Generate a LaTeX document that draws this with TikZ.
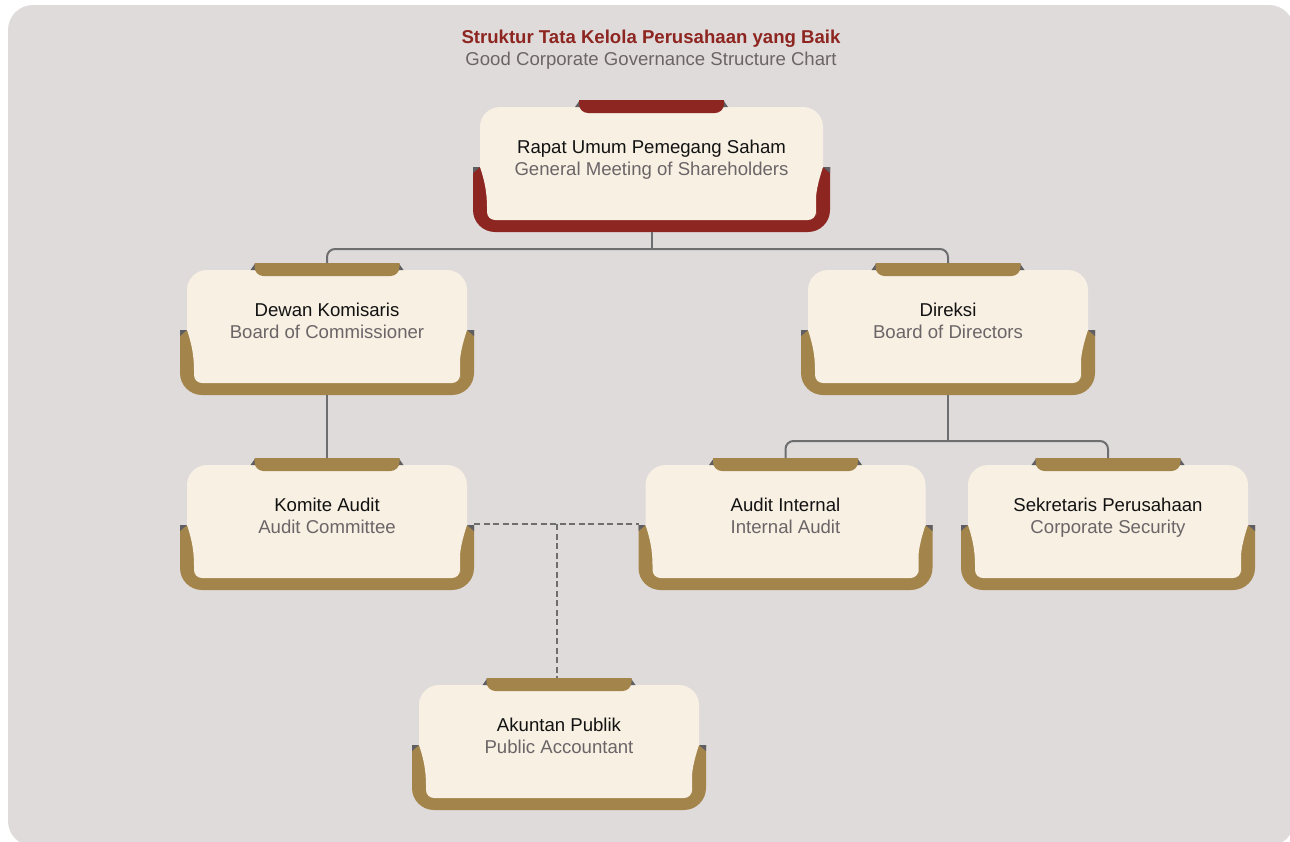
\documentclass[tikz,border=0pt]{standalone}
\usepackage{fontspec}
\setmainfont{Liberation Sans}
\usetikzlibrary{calc}

\definecolor{panelgray}{HTML}{E0DBDB}
\definecolor{creamfill}{HTML}{F7F0E3}
\definecolor{bronze}{HTML}{A3844A}
\definecolor{maroon}{HTML}{8D2520}
\definecolor{foldgray}{HTML}{5F5F63}
\definecolor{linkgray}{HTML}{6E6E70}
\definecolor{subgray}{HTML}{6C6568}
\definecolor{inkblack}{HTML}{121212}

\tikzset{
  frame/.style={inner sep=0pt, outer sep=0pt, draw=none},
  lineone/.style={anchor=base, inner sep=0pt, text=inkblack,
    font=\fontsize{18.6}{22}\selectfont},
  linetwo/.style={anchor=base, inner sep=0pt, text=subgray,
    font=\fontsize{18.6}{22}\selectfont},
  link/.style={draw=linkgray, line width=2pt},
  dashlink/.style={draw=linkgray, line width=2pt, dash pattern=on 6pt off 3.5pt},
}

% \govbox{name}{centre x}{top of card}{half width of card}{accent colour}{text 1}{text 2}
\newcommand\govbox[7]{%
  % outline node used by the connectors
  \node[frame, minimum width={2*#4+14}, minimum height=132] (#1) at (#2,{#3+59}) {};
  % tray under the card
  \begin{scope}
    \clip ({#2-#4-8},{#3+60}) rectangle ({#2+#4+8},{#3+130});
    \fill[#5, rounded corners=22] ({#2-#4-7},{#3+20}) rectangle ({#2+#4+7},{#3+125});
  \end{scope}
  \fill[foldgray] ({#2-#4-7},{#3+60}) -- ({#2-#4},{#3+60}) -- ({#2-#4-7},{#3+66}) -- cycle;
  \fill[foldgray] ({#2+#4+7},{#3+60}) -- ({#2+#4},{#3+60}) -- ({#2+#4+7},{#3+66}) -- cycle;
  % card: upper part
  \begin{scope}
    \clip ({#2-#4-1},{#3-1}) rectangle ({#2+#4+1},{#3+60.6});
    \fill[creamfill, rounded corners=20] ({#2-#4},{#3}) rectangle ({#2+#4},{#3+110});
  \end{scope}
  % card: lower part, sides drawn in by the tray
  \fill[creamfill] ({#2-#4},{#3+60}) .. controls ({#2-#4+4},{#3+72}) and ({#2-#4+7},{#3+84}) .. ({#2-#4+7},{#3+100})
     [rounded corners=8] -- ({#2-#4+7},{#3+113}) -- ({#2+#4-7},{#3+113}) -- ({#2+#4-7},{#3+100})
     [sharp corners] .. controls ({#2+#4-7},{#3+84}) and ({#2+#4-4},{#3+72}) .. ({#2+#4},{#3+60}) -- cycle;
  % tab on top of the card
  \fill[foldgray] ({#2-76.5},{#3}) -- ({#2-71.5},{#3-7}) -- ({#2-69.5},{#3}) -- cycle;
  \fill[foldgray] ({#2+76.5},{#3}) -- ({#2+71.5},{#3-7}) -- ({#2+69.5},{#3}) -- cycle;
  \begin{scope}
    \clip ({#2-73},{#3-7}) rectangle ({#2+73},{#3+8});
    \fill[#5, rounded corners=9] ({#2-72.5},{#3-25}) rectangle ({#2+72.5},{#3+6});
  \end{scope}
  % labels
  \node[lineone] (#1-id) at (#2,{#3+46}) {#6};
  \node[linetwo] (#1-en) at (#2,{#3+68}) {#7};
}

\begin{document}
\begin{tikzpicture}[x=1pt, y=-1pt]
  \useasboundingbox (0,0) rectangle (1290,841);
  \fill[white] (0,0) rectangle (1290,841);
  \fill[panelgray, rounded corners=25] (8,5) rectangle (1294,846);

  % heading
  \node[anchor=base, inner sep=0pt, text=maroon, font=\fontsize{18.6}{22}\selectfont\bfseries]
    (title) at (651,43) {Struktur Tata Kelola Perusahaan yang Baik};
  \node[anchor=base, inner sep=0pt, text=subgray, font=\fontsize{18.6}{22}\selectfont]
    (subtitle) at (651,65) {Good Corporate Governance Structure Chart};

  % connectors (drawn first, cards sit on top)
  \coordinate (rupsJoin) at (651.5,249);
  \coordinate (dirJoin) at (948,441);
  \coordinate (kaMid) at (556.75,524);

  \govbox{rups}{651.5}{107}{171.5}{maroon}{Rapat Umum Pemegang Saham}{General Meeting of Shareholders}
  \govbox{dk}{327}{270}{140}{bronze}{Dewan Komisaris}{Board of Commissioner}
  \govbox{dir}{948}{270}{140}{bronze}{Direksi}{Board of Directors}
  \govbox{kom}{327}{465}{140}{bronze}{Komite Audit}{Audit Committee}
  \govbox{ai}{785.5}{465}{140}{bronze}{Audit Internal}{Internal Audit}
  \govbox{sek}{1108}{465}{140}{bronze}{Sekretaris Perusahaan}{Corporate Security}
  \govbox{ak}{559}{685}{140}{bronze}{Akuntan Publik}{Public Accountant}

  \draw[link] (rups.south) -- (rupsJoin);
  \draw[link, rounded corners=8] (dk.north) |- (rupsJoin) -| (dir.north);
  \draw[link] (dk.south) -- (kom.north);
  \draw[link] (dir.south) -- (dirJoin);
  \draw[link, rounded corners=8] (ai.north) |- (dirJoin) -| (sek.north);
  \draw[dashlink] (kom.east) -- (ai.west);
  \draw[dashlink] (kaMid) -- (kaMid |- ak.north);
\end{tikzpicture}
\end{document}
